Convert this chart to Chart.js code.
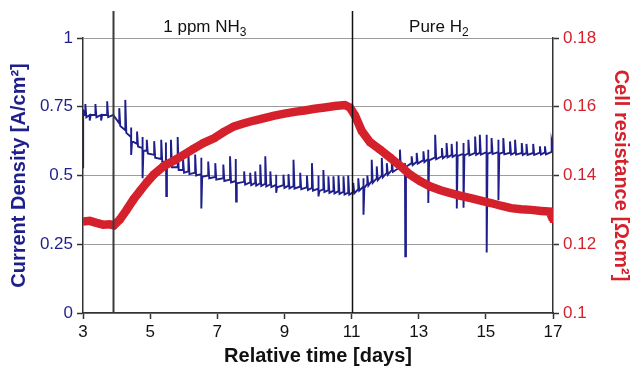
<!DOCTYPE html>
<html>
<head>
<meta charset="utf-8">
<script src="https://cdn.jsdelivr.net/npm/chart.js@4/dist/chart.umd.min.js"></script>
<style>
  html, body { margin:0; padding:0; background:#fff; }
  #wrap { width:633px; height:367px; }
</style>
</head>
<body>
<div id="wrap"><canvas id="chart" width="633" height="367"></canvas></div>
<script>
// ticks
const dayTicks = [3, 5, 7, 9, 11, 13, 15, 17];
const cdTicks = [0, 0.25, 0.5, 0.75, 1];
const resTicks = [0.1, 0.12, 0.14, 0.16, 0.18];

// phase changes (days) + labels
const phaseDays = [3.9, 11];
const phaseLabels = [["1 ppm NH", "3"], ["Pure H", "2"]];

// current density [A/cm2] - [day, value], spikes
const currentDensity = [
  [3.00,0.53],[3.005,0.74],[3.03,0.72],
  [3.07,0.72],[3.07,0.76],[3.10,0.712],
  [3.20,0.72],[3.20,0.70],[3.23,0.72],
  [3.37,0.72],[3.37,0.76],[3.40,0.712],
  [3.54,0.72],[3.54,0.70],[3.57,0.72],
  [3.72,0.72],[3.72,0.77],[3.75,0.712],
  [3.90,0.72],
  [4.08,0.69],[4.08,0.745],[4.11,0.68],
  [4.26,0.665],[4.26,0.775],[4.29,0.655],
  [4.43,0.64],[4.43,0.675],[4.44,0.575],[4.46,0.625],
  [4.61,0.615],[4.61,0.66],[4.64,0.605],
  [4.77,0.60],[4.77,0.64],[4.78,0.49],[4.80,0.59],
  [4.90,0.59],[4.90,0.63],[4.93,0.58],
  [5.12,0.575],[5.12,0.625],[5.15,0.565],
  [5.33,0.56],[5.33,0.63],[5.36,0.55],
  [5.47,0.55],[5.47,0.62],[5.48,0.425],[5.50,0.54],
  [5.62,0.54],[5.62,0.63],[5.65,0.53],
  [5.82,0.53],[5.82,0.64],[5.85,0.52],
  [5.98,0.52],[5.98,0.56],[6.01,0.51],
  [6.14,0.515],[6.14,0.58],[6.17,0.505],
  [6.34,0.51],[6.34,0.576],[6.37,0.50],
  [6.52,0.505],[6.52,0.565],[6.53,0.38],[6.55,0.495],
  [6.73,0.50],[6.73,0.551],[6.76,0.49],
  [6.94,0.495],[6.94,0.545],[6.97,0.485],
  [7.18,0.49],[7.18,0.54],[7.21,0.48],
  [7.38,0.485],[7.38,0.57],[7.41,0.475],
  [7.55,0.48],[7.55,0.56],[7.56,0.405],[7.58,0.472],
  [7.80,0.477],[7.80,0.515],[7.83,0.467],
  [7.98,0.475],[7.98,0.51],[8.01,0.465],
  [8.13,0.473],[8.13,0.515],[8.16,0.463],
  [8.28,0.472],[8.28,0.54],[8.31,0.462],
  [8.43,0.47],[8.43,0.57],[8.46,0.46],
  [8.58,0.468],[8.58,0.515],[8.61,0.458],
  [8.75,0.466],[8.75,0.503],[8.76,0.437],[8.78,0.457],
  [8.97,0.465],[8.97,0.503],[9.00,0.455],
  [9.12,0.463],[9.12,0.505],[9.15,0.453],
  [9.27,0.462],[9.27,0.557],[9.30,0.452],
  [9.47,0.46],[9.47,0.51],[9.50,0.45],
  [9.67,0.457],[9.67,0.50],[9.70,0.447],
  [9.82,0.455],[9.82,0.545],[9.85,0.445],
  [10.01,0.452],[10.01,0.50],[10.02,0.424],[10.04,0.443],
  [10.16,0.45],[10.16,0.52],[10.19,0.44],
  [10.31,0.447],[10.31,0.497],[10.34,0.437],
  [10.46,0.445],[10.46,0.497],[10.49,0.435],
  [10.61,0.443],[10.61,0.50],[10.64,0.433],
  [10.76,0.441],[10.76,0.497],[10.79,0.431],
  [10.90,0.438],[10.90,0.50],[10.93,0.43],
  [11.05,0.44],[11.05,0.473],[11.08,0.435],
  [11.20,0.45],[11.20,0.49],[11.23,0.445],
  [11.35,0.46],[11.35,0.49],[11.36,0.357],[11.38,0.455],
  [11.47,0.47],[11.47,0.50],[11.50,0.463],
  [11.60,0.48],[11.60,0.557],[11.63,0.473],
  [11.75,0.49],[11.75,0.533],[11.78,0.483],
  [11.90,0.50],[11.90,0.564],[11.93,0.493],
  [12.05,0.51],[12.05,0.545],[12.08,0.503],
  [12.20,0.52],[12.20,0.557],[12.23,0.513],
  [12.44,0.53],[12.44,0.594],[12.47,0.523],
  [12.59,0.538],[12.59,0.545],[12.60,0.206],[12.62,0.532],
  [12.79,0.545],[12.79,0.57],[12.82,0.538],
  [12.94,0.55],[12.94,0.582],[12.97,0.543],
  [13.14,0.556],[13.14,0.588],[13.17,0.549],
  [13.28,0.56],[13.28,0.594],[13.29,0.40],[13.31,0.555],
  [13.49,0.566],[13.49,0.648],[13.52,0.559],
  [13.69,0.57],[13.69,0.60],[13.72,0.563],
  [13.83,0.573],[13.83,0.618],[13.86,0.566],
  [13.98,0.575],[13.98,0.615],[14.01,0.568],
  [14.13,0.577],[14.13,0.624],[14.14,0.38],[14.16,0.571],
  [14.33,0.579],[14.33,0.618],[14.34,0.383],[14.36,0.573],
  [14.48,0.58],[14.48,0.63],[14.51,0.573],
  [14.68,0.582],[14.68,0.642],[14.71,0.575],
  [14.82,0.583],[14.82,0.648],[14.85,0.576],
  [15.02,0.585],[15.02,0.648],[15.03,0.22],[15.05,0.579],
  [15.17,0.585],[15.17,0.636],[15.20,0.578],
  [15.37,0.585],[15.37,0.63],[15.38,0.41],[15.40,0.579],
  [15.52,0.584],[15.52,0.636],[15.55,0.577],
  [15.72,0.583],[15.72,0.624],[15.75,0.576],
  [15.87,0.583],[15.87,0.63],[15.90,0.576],
  [16.07,0.582],[16.07,0.618],[16.10,0.575],
  [16.21,0.582],[16.21,0.615],[16.24,0.575],
  [16.41,0.582],[16.41,0.615],[16.44,0.575],
  [16.61,0.583],[16.61,0.606],[16.64,0.576],
  [16.76,0.584],[16.76,0.606],[16.79,0.577],
  [16.96,0.586],[16.96,0.624],[17.00,0.60]
];

// cell resistance [Ohm cm2]
const resDays = [3.0, 3.2, 3.4, 3.6, 3.8, 3.92, 4.1, 4.3, 4.5, 4.7, 4.9, 5.1, 5.4, 5.7, 6.0, 6.3, 6.6, 6.9,
  7.2, 7.5, 7.8, 8.1, 8.4, 8.7, 9.0, 9.3, 9.6, 9.9, 10.2, 10.5, 10.8, 10.95, 11.1, 11.3, 11.55, 11.85,
  12.15, 12.45, 12.75, 13.05, 13.35, 13.65, 13.95, 14.25, 14.55, 14.85, 15.15, 15.45, 15.75, 16.05,
  16.35, 16.65, 16.9, 17.0];
const resValues = [0.1266, 0.1268, 0.1262, 0.1257, 0.1258, 0.1255, 0.1272, 0.1300, 0.1330, 0.1355, 0.1380,
  0.1402, 0.1427, 0.1443, 0.1460, 0.1478, 0.1495, 0.1508, 0.1527, 0.1543, 0.1552, 0.1560, 0.1567, 0.1574,
  0.1580, 0.1585, 0.1589, 0.1594, 0.1598, 0.1602, 0.1605, 0.1598, 0.1575, 0.1530, 0.1497, 0.1475, 0.1452,
  0.1428, 0.1402, 0.1383, 0.1368, 0.1357, 0.1349, 0.1341, 0.1334, 0.1327, 0.1320, 0.1312, 0.1305, 0.1302,
  0.1300, 0.1297, 0.1295, 0.1271];

const BLUE = "#1f1f8c";
const RED = "#d4212c";
const AXIS = "#333";

Chart.defaults.font.family = '"Liberation Sans", Arial, sans-serif';

function fixedTicks(list){
  return s => { s.ticks = list.map(v => ({ value: v })); };
}

// vertical phase lines + labels on top
const phasePlugin = {
  id: "phases",
  afterDatasetsDraw(chart){
    const { ctx, chartArea, scales } = chart;
    const labelDays = chart.options.plugins.phases.labelDays;
    ctx.save();
    phaseDays.forEach((d, i) => {
      const x = Math.round(scales.x.getPixelForValue(d)) + 0.5;
      ctx.strokeStyle = i === 0 ? "#3a3a3a" : "#111";
      ctx.lineWidth = i === 0 ? 2 : 1.5;
      ctx.beginPath();
      ctx.moveTo(x, 11);
      ctx.lineTo(x, chartArea.bottom);
      ctx.stroke();
    });
    ctx.fillStyle = "#111";
    ctx.textBaseline = "alphabetic";
    phaseLabels.forEach(([main, sub], i) => {
      ctx.font = '17px "Liberation Sans", Arial, sans-serif';
      const w1 = ctx.measureText(main).width;
      ctx.font = '12px "Liberation Sans", Arial, sans-serif';
      const w2 = ctx.measureText(sub).width;
      const cx = scales.x.getPixelForValue(labelDays[i]);
      const x0 = cx - (w1 + w2) / 2;
      ctx.font = '17px "Liberation Sans", Arial, sans-serif';
      ctx.fillText(main, x0, 32);
      ctx.font = '12px "Liberation Sans", Arial, sans-serif';
      ctx.fillText(sub, x0 + w1, 36);
    });
    ctx.restore();
  }
};

new Chart(document.getElementById("chart"), {
  type: "line",
  data: {
    datasets: [
      {
        label: "Cell resistance",
        data: resDays.map((d, i) => ({ x: d, y: resValues[i] })),
        yAxisID: "yR",
        borderColor: RED,
        backgroundColor: RED,
        borderWidth: 8.5,
        pointStyle: "rect",
        pointRadius: 4.5,
        pointBorderWidth: 0,
        tension: 0,
        order: 0
      },
      {
        label: "Current density",
        data: currentDensity.map(p => ({ x: p[0], y: p[1] })),
        yAxisID: "yL",
        borderColor: BLUE,
        borderWidth: 1.9,
        pointRadius: 0,
        tension: 0,
        order: 1
      }
    ]
  },
  options: {
    responsive: false,
    animation: false,
    layout: { padding: { top: 38, left: 0, right: 0, bottom: 0 } },
    plugins: {
      legend: { display: false },
      tooltip: { enabled: false },
      phases: { labelDays: [6.63, 13.6] }
    },
    scales: {
      x: {
        type: "linear", min: 3, max: 17,
        afterBuildTicks: fixedTicks(dayTicks),
        afterFit: s => { s.height = 54; },
        ticks: { color: "#111", font: { size: 17 }, padding: 3, maxRotation: 0, autoSkip: false },
        grid: { drawOnChartArea: false, tickLength: 6, tickColor: AXIS, tickWidth: 1.5 },
        border: { color: AXIS, width: 1.5 },
        title: { display: true, text: "Relative time [days]", color: "#111",
          font: { size: 20, weight: "bold", lineHeight: 1.1 }, padding: { top: 0, bottom: 0 } }
      },
      yL: {
        type: "linear", position: "left", min: 0, max: 1,
        afterBuildTicks: fixedTicks(cdTicks),
        afterFit: s => { s.width = 83; },
        ticks: { color: BLUE, font: { size: 17 }, padding: 4, callback: v => String(+v.toFixed(2)) },
        grid: { color: "#9c9c9c", lineWidth: 1, tickLength: 6, tickColor: AXIS, tickWidth: 1.5 },
        border: { color: AXIS, width: 1.5 },
        title: { display: true, text: "Current Density [A/cm²]", color: BLUE,
          font: { size: 20, weight: "bold", lineHeight: 1.1 }, padding: { top: 8, bottom: 0 } }
      },
      yR: {
        type: "linear", position: "right", min: 0.1, max: 0.18,
        afterBuildTicks: fixedTicks(resTicks),
        afterFit: s => { s.width = 80; },
        ticks: { color: RED, font: { size: 17 }, padding: 4, callback: v => String(+v.toFixed(2)) },
        grid: { drawOnChartArea: false, tickLength: 6, tickColor: AXIS, tickWidth: 1.5 },
        border: { color: AXIS, width: 1.5 },
        title: { display: true, text: "Cell resistance [Ωcm²]", color: RED,
          font: { size: 20, weight: "bold", lineHeight: 1.1 }, padding: { top: 1, bottom: 0 } }
      }
    }
  },
  plugins: [phasePlugin]
});
</script>
</body>
</html>
